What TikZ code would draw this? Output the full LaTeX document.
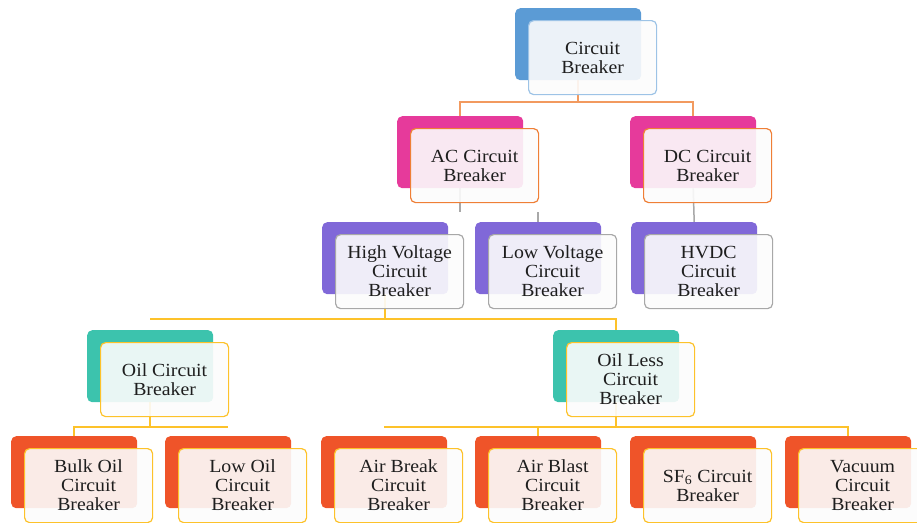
\documentclass[tikz,border=0pt]{standalone}
\usepackage{fontspec}
\setmainfont[FakeStretch=1.07]{Liberation Serif}
\usetikzlibrary{calc,backgrounds}
\definecolor{cBlue}{HTML}{5B9BD5}
\definecolor{cBlueLine}{HTML}{9DC3E6}
\definecolor{cMag}{HTML}{E63A9B}
\definecolor{cOrange}{HTML}{EF7F36}
\definecolor{cOrangeLink}{HTML}{F29A5F}
\definecolor{cPurple}{HTML}{8068D8}
\definecolor{cGray}{HTML}{A8A8A8}
\definecolor{cTeal}{HTML}{3CC3AD}
\definecolor{cGold}{HTML}{FDC22A}
\definecolor{cRed}{HTML}{EF5429}
\definecolor{cText}{HTML}{1E1E1E}
\tikzset{
  backbox/.style={rectangle, rounded corners=5pt, minimum width=126pt, minimum height=72pt, inner sep=0pt, anchor=north west},
  frontbox/.style={rectangle, rounded corners=5pt, minimum width=128pt, minimum height=74pt, inner sep=0pt, anchor=north west,
    fill=white!99!black, fill opacity=0.9, text opacity=1, line width=1.2pt, align=center, text=cText,
    font=\fontsize{18.5}{19}\selectfont},
  linkO/.style={draw=cOrangeLink, line width=1.5pt},
  linkG/.style={draw=cGray, line width=1.5pt},
  linkY/.style={draw=cGold, line width=1.5pt}
}
\newcommand\sabox[6]{%
  \node[backbox, fill=#4] (#1B) at (#2,#3) {};
  \node[frontbox, draw=#5] (#1) at ($(#1B.north west)+(13,12)$) {#6};
}
\begin{document}
\begin{tikzpicture}[x=1pt,y=-1pt]
\useasboundingbox (0,0) rectangle (917,522);
% level 1
\sabox{cb}{515}{8}{cBlue}{cBlueLine}{Circuit\\Breaker}
% level 2
\sabox{ac}{397}{116}{cMag}{cOrange}{AC Circuit\\Breaker}
\sabox{dc}{630}{116}{cMag}{cOrange}{DC Circuit\\Breaker}
% level 3
\sabox{hv}{322}{222}{cPurple}{cGray}{High Voltage\\Circuit\\Breaker}
\sabox{lv}{475}{222}{cPurple}{cGray}{Low Voltage\\Circuit\\Breaker}
\sabox{hd}{631}{222}{cPurple}{cGray}{HVDC\\Circuit\\Breaker}
% level 4
\sabox{oil}{87}{330}{cTeal}{cGold}{Oil Circuit\\Breaker}
\sabox{ol}{553}{330}{cTeal}{cGold}{Oil Less\\Circuit\\Breaker}
% level 5
\sabox{bo}{11}{436}{cRed}{cGold}{Bulk Oil\\Circuit\\Breaker}
\sabox{lo}{165}{436}{cRed}{cGold}{Low Oil\\Circuit\\Breaker}
\sabox{abk}{321}{436}{cRed}{cGold}{Air Break\\Circuit\\Breaker}
\sabox{abl}{475}{436}{cRed}{cGold}{Air Blast\\Circuit\\Breaker}
\sabox{sf}{630}{436}{cRed}{cGold}{SF\textsubscript{6} Circuit\\Breaker}
\sabox{vac}{785}{436}{cRed}{cGold}{Vacuum\\Circuit\\Breaker}
% bus levels
\coordinate (y1) at (0,102);
\coordinate (y2) at (0,212);
\coordinate (y3) at (0,319);
\coordinate (y4) at (0,427);
\begin{pgfonlayer}{background}
  \draw[linkO] (cbB.south) -- (cbB.south |- y1);
  \draw[linkO] (acB.north) |- (dcB.north |- y1) -- (dcB.north);
  \draw[linkG] (acB.south) -- (acB.south |- y2);
  \draw[linkG] (lvB.north |- y2) -- (lvB.north);
  \draw[linkG] (dcB.south) -- (hdB.north);
  \draw[linkY] (hvB.south) -- (hvB.south |- y3);
  \draw[linkY] (oilB.north |- y3) -| (olB.north);
  \draw[linkY] (oilB.south) -- (oilB.south |- y4);
  \draw[linkY] (boB.north) |- (loB.north |- y4);
  \draw[linkY] (olB.south) -- (olB.south |- y4);
  \draw[linkY] (abkB.north |- y4) -| (vacB.north);
  \draw[linkY] (ablB.north |- y4) -- (ablB.north);
\end{pgfonlayer}
\end{tikzpicture}
\end{document}
